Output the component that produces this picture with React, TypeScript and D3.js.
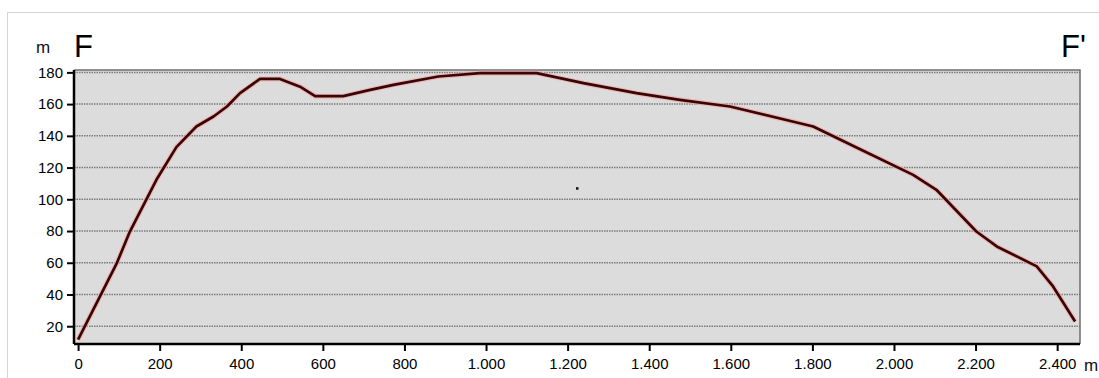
import React, { useEffect, useRef } from 'react';
import * as d3 from 'd3';

// profile F - F' (distance in m, elevation in m)
const distance = [0, 95, 127, 192, 241, 290, 332, 365, 397, 446, 495, 544, 581, 650, 716, 773, 883, 985, 1124, 1239, 1369, 1475, 1598, 1802, 1917, 2047, 2104, 2202, 2252, 2350, 2390, 2444];
const elevation = [11.5, 59.8, 79.7, 112.3, 132.9, 145.9, 152.2, 158.5, 166.9, 175.9, 175.9, 171, 165, 165, 169, 172.1, 177.4, 179.5, 179.5, 173.2, 166.9, 162.7, 158.5, 145.9, 131.6, 115.4, 106, 79.7, 70.3, 57.7, 45.1, 23];
const stray = [[1223, 107]];
const xTicks = [0, 200, 400, 600, 800, 1000, 1200, 1400, 1600, 1800, 2000, 2200, 2400];
const yTicks = [20, 40, 60, 80, 100, 120, 140, 160, 180];

const W = 1099;
const H = 378;

const App = () => {
  const ref = useRef<SVGSVGElement>(null);

  useEffect(() => {
    const svg = d3.select(ref.current);
    svg.selectAll('*').remove();

    const plot = { left: 74, right: 1080, top: 70, bottom: 344 };
    const x = d3.scaleLinear().domain([-10, 2456]).range([plot.left, plot.right]);
    const y = d3.scaleLinear().domain([8.8, 181.5]).range([plot.bottom, plot.top]);
    const font = 'Arial, "Liberation Sans", sans-serif';

    // outer light frame
    svg.append('rect')
      .attr('x', 7.5).attr('y', 12.5)
      .attr('width', W).attr('height', H)
      .attr('fill', 'none').attr('stroke', '#d4d4d4');

    svg.append('rect')
      .attr('x', plot.left).attr('y', plot.top)
      .attr('width', plot.right - plot.left).attr('height', plot.bottom - plot.top)
      .attr('fill', '#dcdcdc');

    // dotted grid
    svg.append('g').selectAll('line')
      .data(yTicks)
      .join('line')
      .attr('x1', plot.left).attr('x2', plot.right)
      .attr('y1', d => y(d)).attr('y2', d => y(d))
      .attr('stroke', '#7a7a7a')
      .attr('stroke-width', 1.5)
      .attr('stroke-dasharray', '1.5,1');

    // frame: top/right grey, left/bottom black
    svg.append('path')
      .attr('d', `M${plot.left},${plot.top}H${plot.right}V${plot.bottom}`)
      .attr('fill', 'none').attr('stroke', '#6e6e6e').attr('stroke-width', 1.5);

    const yAxis = svg.append('g')
      .attr('transform', `translate(${plot.left},0)`)
      .call(d3.axisLeft(y).tickValues(yTicks).tickSize(7).tickPadding(4).tickFormat(d3.format('d')));
    yAxis.select('.domain').attr('stroke', '#000').attr('stroke-width', 2.5)
      .attr('d', `M0,${plot.top}V${plot.bottom}`);
    yAxis.selectAll('.tick line').attr('stroke', '#000').attr('stroke-width', 2);
    yAxis.selectAll('text').attr('font-size', 15).attr('font-family', font).attr('fill', '#000');

    const fmt = (v: number) => v >= 1000 ? d3.format(',')(v).replace(',', '.') : String(v);
    const xAxis = svg.append('g')
      .attr('transform', `translate(0,${plot.bottom})`)
      .call(d3.axisBottom(x).tickValues(xTicks).tickSize(7).tickPadding(7).tickFormat(d => fmt(+d)));
    xAxis.select('.domain').attr('stroke', '#000').attr('stroke-width', 2.5)
      .attr('d', `M${plot.left},0H${plot.right}`);
    xAxis.selectAll('.tick line').attr('stroke', '#000').attr('stroke-width', 2);
    xAxis.selectAll('text').attr('font-size', 15).attr('font-family', font).attr('fill', '#000');

    const pts = distance.map((d, i) => [d, elevation[i]] as [number, number]);
    const line = d3.line<[number, number]>().x(d => x(d[0])).y(d => y(d[1]));

    svg.append('path')
      .attr('d', line(pts))
      .attr('fill', 'none').attr('stroke', '#f2aaaa').attr('stroke-width', 5)
      .attr('stroke-linejoin', 'round').attr('opacity', 0.7);
    svg.append('path')
      .attr('d', line(pts))
      .attr('fill', 'none').attr('stroke', '#3a0505').attr('stroke-width', 2.7)
      .attr('stroke-linejoin', 'round');

    svg.selectAll('.stray')
      .data(stray)
      .join('rect')
      .attr('x', d => x(d[0]) - 1).attr('y', d => y(d[1]) - 1)
      .attr('width', 2.5).attr('height', 2.5).attr('fill', '#111');

    svg.append('text').attr('x', 36).attr('y', 53).text('m')
      .attr('font-size', 17).attr('font-family', font).attr('fill', '#111');
    svg.append('text').attr('x', 74).attr('y', 57).text('F')
      .attr('font-size', 31).attr('font-family', font).attr('fill', '#000');
    svg.append('text').attr('x', 1061).attr('y', 57).text("F'")
      .attr('font-size', 31).attr('font-family', font).attr('fill', '#000');
    svg.append('text').attr('x', 1084).attr('y', 371).text('m')
      .attr('font-size', 17).attr('font-family', font).attr('fill', '#111');
  }, []);

  return (
    <svg ref={ref} width={W} height={H} style={{ display: 'block', position: 'absolute', left: 0, top: 0, background: '#fff' }} />
  );
};

export default App;
